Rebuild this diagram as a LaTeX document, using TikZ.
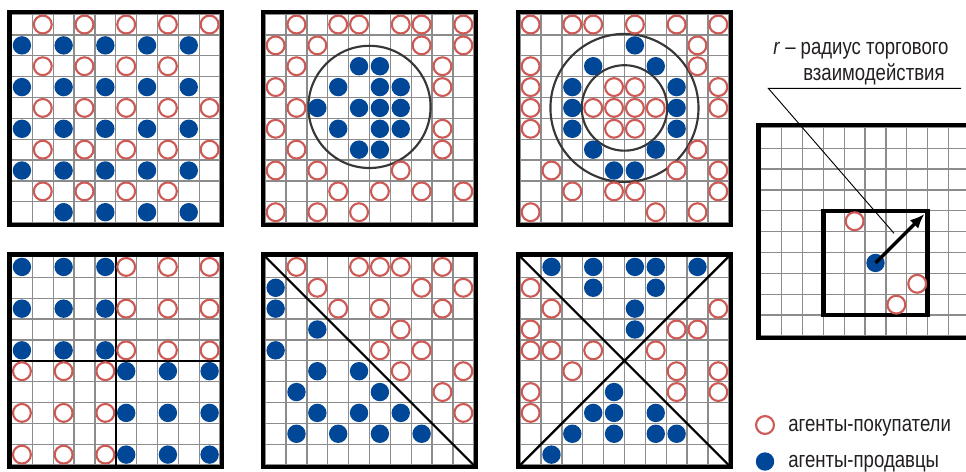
\documentclass[tikz,border=0pt]{standalone}
\usepackage{fontspec}
\setmainfont{Liberation Sans}[FakeStretch=0.82]
\usetikzlibrary{arrows.meta}

\definecolor{buyred}{RGB}{206,90,86}
\definecolor{sellblue}{RGB}{0,71,151}
\definecolor{gridgray}{RGB}{140,140,140}
\definecolor{ringgray}{RGB}{55,55,55}
\definecolor{txtgray}{RGB}{35,31,32}

\tikzset{
  fieldunit/.style={x=15.64pt,y=-15.64pt},
  gridline/.style={gridgray,line width=1pt},
  panelframe/.style={line width=3.3pt},
  ringline/.style={ringgray,line width=1.6pt},
  splitline/.style={line width=1.6pt},
  buyer/.style={circle,draw=buyred,line width=1.6pt,fill=white,minimum size=13.4pt,inner sep=0pt},
  seller/.style={circle,fill=sellblue,minimum size=13.8pt,inner sep=0pt},
  capt/.style={font=\fontsize{17}{20}\selectfont,text=txtgray,inner sep=0pt,anchor=base west},
  leadline/.style={line width=0.7pt},
  rarrow/.style={line width=2.6pt,-{Latex[length=11pt,width=9pt]}},
}

\newcommand{\field}[2]{%
  \foreach \i in {0,...,#1} \draw[gridline] (\i,0) -- (\i,#2);
  \foreach \j in {0,...,#2} \draw[gridline] (0,\j) -- (#1,\j);
}
\newcommand{\border}{\draw[panelframe] (-0.105,-0.105) rectangle (10.105,10.105);}
\newcommand{\buyers}[2]{\foreach \col/\row in {#2} \node[buyer] (#1-\col-\row) at (\col-0.5,\row-0.5) {};}
\newcommand{\sellers}[2]{\foreach \col/\row in {#2} \node[seller] (#1-\col-\row) at (\col-0.5,\row-0.5) {};}

\begin{document}
\begin{tikzpicture}[x=0.75pt,y=-0.75pt]
  \path[use as bounding box,clip] (0,0) rectangle (966,471);

  % uniform mix
  \begin{scope}[shift={(11.5,14.1)},fieldunit]
    \field{10}{10}
    \buyers{p1}{2/1,4/1,6/1,8/1,10/1,2/3,4/3,6/3,8/3,2/5,4/5,6/5,8/5,10/5,2/7,4/7,6/7,8/7,10/7,2/9,4/9,6/9,8/9}
    \sellers{p1}{1/2,3/2,5/2,7/2,9/2,1/4,3/4,5/4,7/4,9/4,1/6,3/6,5/6,7/6,9/6,1/8,3/8,5/8,7/8,9/8,3/10,5/10,7/10,9/10}
    \border
  \end{scope}

  % sellers in the centre
  \begin{scope}[shift={(265.2,14.1)},fieldunit]
    \field{10}{10}
    \draw[ringline] (5,4.45) circle[radius=2.93];
    \buyers{p2}{2/1,4/1,5/1,7/1,8/1,10/1,1/2,3/2,8/2,10/2,2/3,9/3,1/4,9/4,2/5,1/6,9/6,2/7,9/7,1/8,3/8,7/8,4/9,6/9,8/9,10/9,1/10,3/10,5/10}
    \sellers{p2}{5/3,6/3,4/4,6/4,7/4,3/5,5/5,6/5,7/5,4/6,6/6,7/6,5/7,6/7}
    \border
  \end{scope}

  % ring of sellers
  \begin{scope}[shift={(520.2,14.1)},fieldunit]
    \field{10}{10}
    \draw[ringline] (5,4.5) circle[radius=2.05];
    \draw[ringline] (5,4.5) circle[radius=3.55];
    \buyers{p3}{1/1,3/1,4/1,6/1,8/1,10/1,9/2,1/3,9/3,1/4,5/4,6/4,10/4,1/5,4/5,5/5,6/5,7/5,10/5,1/6,5/6,6/6,9/7,2/8,8/8,10/8,3/9,5/9,6/9,10/9,1/10,7/10,9/10}
    \sellers{p3}{6/2,4/3,7/3,3/4,8/4,3/5,8/5,3/6,8/6,4/7,7/7,5/8,6/8}
    \border
  \end{scope}

  % quarters
  \begin{scope}[shift={(11.5,256.5)},fieldunit]
    \field{10}{10}
    \draw[splitline] (5,0) -- (5,10);
    \draw[splitline] (0,5) -- (10,5);
    \sellers{p4}{1/1,3/1,5/1,1/3,3/3,5/3,1/5,3/5,5/5,6/6,8/6,10/6,6/8,8/8,10/8,6/10,8/10,10/10}
    \buyers{p4}{6/1,8/1,10/1,6/3,8/3,10/3,6/5,8/5,10/5,1/6,3/6,5/6,1/8,3/8,5/8,1/10,3/10,5/10}
    \border
  \end{scope}

  % halves
  \begin{scope}[shift={(265.2,256.5)},fieldunit]
    \field{10}{10}
    \draw[splitline] (0,0) -- (10,10);
    \buyers{p5}{2/1,5/1,6/1,7/1,9/1,3/2,8/2,10/2,4/3,6/3,9/3,7/4,6/5,8/5,7/6,10/6,9/7,10/8}
    \sellers{p5}{1/2,1/3,3/4,1/5,3/6,5/6,2/7,6/7,3/8,5/8,7/8,2/9,4/9,6/9,8/9}
    \border
  \end{scope}

  % four triangles
  \begin{scope}[shift={(520.2,256.5)},fieldunit]
    \field{10}{10}
    \draw[splitline] (0,0) -- (10,10);
    \draw[splitline] (0,10) -- (10,0);
    \sellers{p6}{2/1,4/1,6/1,7/1,9/1,4/2,7/2,6/3,6/4,5/7,4/8,5/8,7/8,3/9,5/9,7/9,8/9,2/10}
    \buyers{p6}{1/2,2/3,10/3,1/4,8/4,9/4,1/5,2/5,4/5,7/5,3/6,8/6,10/6,1/7,8/7,10/7,1/8}
    \border
  \end{scope}

  % trade radius
  \begin{scope}[shift={(760.8,127.4)},fieldunit]
    \field{11}{10}
    \draw[panelframe] (-0.105,-0.105) rectangle (11.5,10.105);
    \draw[panelframe] (3,4) rectangle (8,9);
    \buyers{pr}{5/5,8/8,7/9}
    \sellers{pr}{6/7}
    \coordinate (rtip) at (7.85,4.15);
    \draw[rarrow] (pr-6-7.center) -- (rtip);
  \end{scope}

  \node[capt] (rtext1) at (773,54) {\textit{r} – радиус торгового};
  \node[capt] (rtext2) at (803,80) {взаимодействия};
  \coordinate (lead) at (768.3,88.3);
  \coordinate (leadend) at (961,88.3);
  \coordinate (leadtip) at (894,233.3);
  \draw[leadline] (leadend) -- (lead) -- (leadtip);

  % legend
  \node[buyer] (lgbuy) at (765,425) {};
  \node[seller] (lgsell) at (765,461.5) {};
  \node[capt] (lgbuytext) at (788,431.5) {агенты-покупатели};
  \node[capt] (lgselltext) at (788,467) {агенты-продавцы};
\end{tikzpicture}
\end{document}
